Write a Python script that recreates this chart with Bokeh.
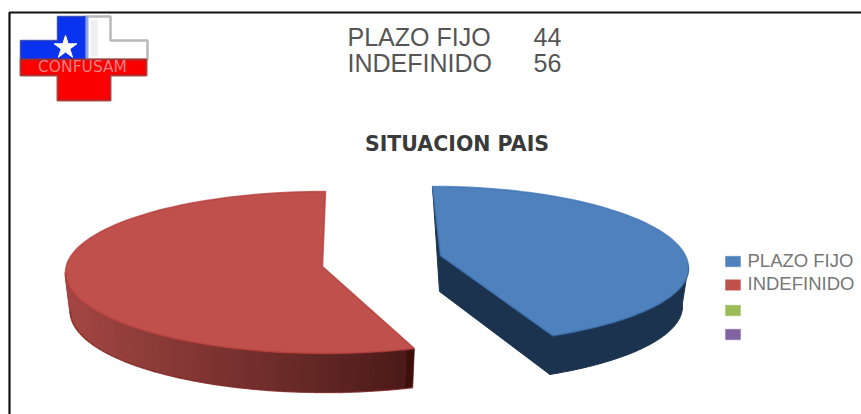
import numpy as np
from bokeh.plotting import figure
from bokeh.models import Range1d
from bokeh.embed import file_html
from bokeh.resources import INLINE
from bokeh.core.properties import value

# ---- data ----
categories = ["PLAZO FIJO", "INDEFINIDO", "", ""]
values = [44, 56, 0, 0]
colors = ["#4f81bd", "#bf504c", "#9bbb59", "#8064a2"]
title = "SITUACION PAIS"
logo_label = "CONFUSAM"

# ---- figure in reference-pixel coordinates ----
p = figure(width=861, height=414, output_backend="svg", toolbar_location=None,
           x_range=Range1d(0, 861), y_range=Range1d(414, 0), min_border=0)
p.axis.visible = False
p.grid.visible = False
p.outline_line_color = None
p.background_fill_color = "white"
p.border_fill_color = "white"

# ---- frame ----
p.line([9, 9, 861], [414, 12, 12], line_color="#111111", line_width=2.2)


def arc(cx, cy, rx, ry_top, ry_bot, a0, a1, n=90):
    th = np.radians(np.linspace(a0, a1, n))
    c = np.cos(th)
    ry = np.where(c > 0, ry_top, ry_bot)
    return cx + rx * np.sin(th), cy - ry * c


def mix(c0, c1, t):
    a = np.array([int(c0[i:i + 2], 16) for i in (1, 3, 5)])
    b = np.array([int(c1[i:i + 2], 16) for i in (1, 3, 5)])
    m = (a + (b - a) * t).astype(int)
    return "#%02x%02x%02x" % tuple(m)


total = sum(values)
split = 360 * values[0] / total

# ---- blue slice ----
b_end = split - 6.4
bx, by = arc(432, 268, 256, 82, 76, 0, b_end)
wx0, wy0 = arc(432, 268, 256, 82, 76, 88, b_end, 50)
wx1, wy1 = arc(432, 306, 250, 77, 77, 88, b_end, 50)
blue_side = "#1c3350"
p.patch(np.r_[wx0, wx1[::-1]], np.r_[wy0, wy1[::-1]], fill_color=blue_side,
        line_color=blue_side, line_width=1)
vx, vy = 440, 255
p.patch([bx[0], vx, bx[-1], wx1[-1], vx - 1, vx - 4],
        [by[0], vy, by[-1], wy1[-1], vy + 36, vy - 10],
        fill_color=blue_side, line_color=blue_side, line_width=1)
p.patch(np.r_[vx, bx], np.r_[vy, by], fill_color=colors[0],
        line_color="#3f74b4", line_width=1.6, line_alpha=0.75)

# ---- red slice ----
r_start = split + 1.6
rx0, ry0 = arc(325, 272, 260, 81, 81, r_start, 270, 61)
rx1, ry1 = arc(325, 311, 255, 81, 81, r_start, 270, 61)
xs, ys, cols = [], [], []
for i in range(60):
    xs.append([rx0[i], rx0[i + 1] - 0.6, rx1[i + 1] - 0.6, rx1[i]])
    ys.append([ry0[i], ry0[i + 1], ry1[i + 1], ry1[i]])
    t = (413 - rx0[i]) / (413 - 65)
    cols.append(mix("#4b1b19", "#a44744", t) if i > 0 else "#3f0f0c")
p.patches(xs, ys, fill_color=cols, line_color=cols, line_width=0.6)
p.line(rx1, ry1, line_color="#7d1f1c", line_width=1.6, line_alpha=0.55)
tx, ty = arc(325, 272, 260, 81, 81, r_start, 360)
p.patch(np.r_[322, tx], np.r_[266, ty], fill_color=colors[1],
        line_color="#b23b38", line_width=1.6, line_alpha=0.7)

# ---- note and title ----
note_x = [347, 347]
note_y = [36.5, 62]
p.text(note_x, note_y, text=categories[:2], text_font=value("Liberation Sans"),
       text_font_size="25px", text_color="#555555", text_baseline="middle")
p.text([547, 547], note_y, text=[str(v) for v in values[:2]], text_font=value("Liberation Sans"),
       text_font_size="25px", text_color="#555555", text_baseline="middle", text_align="center")
p.text([456.5], [143], text=[title], text_font=value("DejaVu Sans"), text_font_style="bold",
       text_font_size="20.5px", text_color="#3a3a3a", text_baseline="middle", text_align="center")

# ---- legend ----
ly = [261, 284.5, 310, 334]
ty_legend = [259.5, 283, 308.5, 332.5]
p.rect([732.5] * 4, ly, width=15, height=10.5, fill_color=colors, line_color=colors,
       line_width=0.8, line_alpha=0.5)
p.text([747] * 4, ty_legend, text=categories, text_font=value("Liberation Sans"),
       text_font_size="18.5px", text_color="#777777", text_baseline="middle")

# ---- logo ----
shade = "#b8b8b8"
p.patch([85, 110, 110, 147, 147, 85], [16, 16, 40, 40, 59, 59], fill_color="white",
        line_color=shade, line_width=2.5)
p.patch([90, 97, 97, 90], [19, 19, 56, 56], fill_color="#efefef", line_color=None)
p.patch([57, 85, 85, 20, 20, 57], [16, 16, 59, 59, 40, 40], fill_color="#0a33f0",
        line_color="#2a3fa8", line_width=1.5, line_alpha=0.8)
p.patch([85, 88, 88, 85], [16, 16, 59, 59], fill_color="#8aa5f5", line_color=None)
p.patch([20, 146, 146, 110, 110, 57, 57, 20], [59, 59, 75, 75, 100, 100, 75, 75],
        fill_color="#fa0000", line_color="#a03030", line_width=2, line_alpha=0.85)
p.scatter([65], [47], marker="star", size=24, fill_color="white", line_color="white")
p.text([82], [66], text=[logo_label], text_font=value("DejaVu Sans"), text_font_size="15.5px",
       text_color="#ee8080", text_baseline="middle", text_align="center")

open("out.html", "w").write(file_html(p, INLINE))
